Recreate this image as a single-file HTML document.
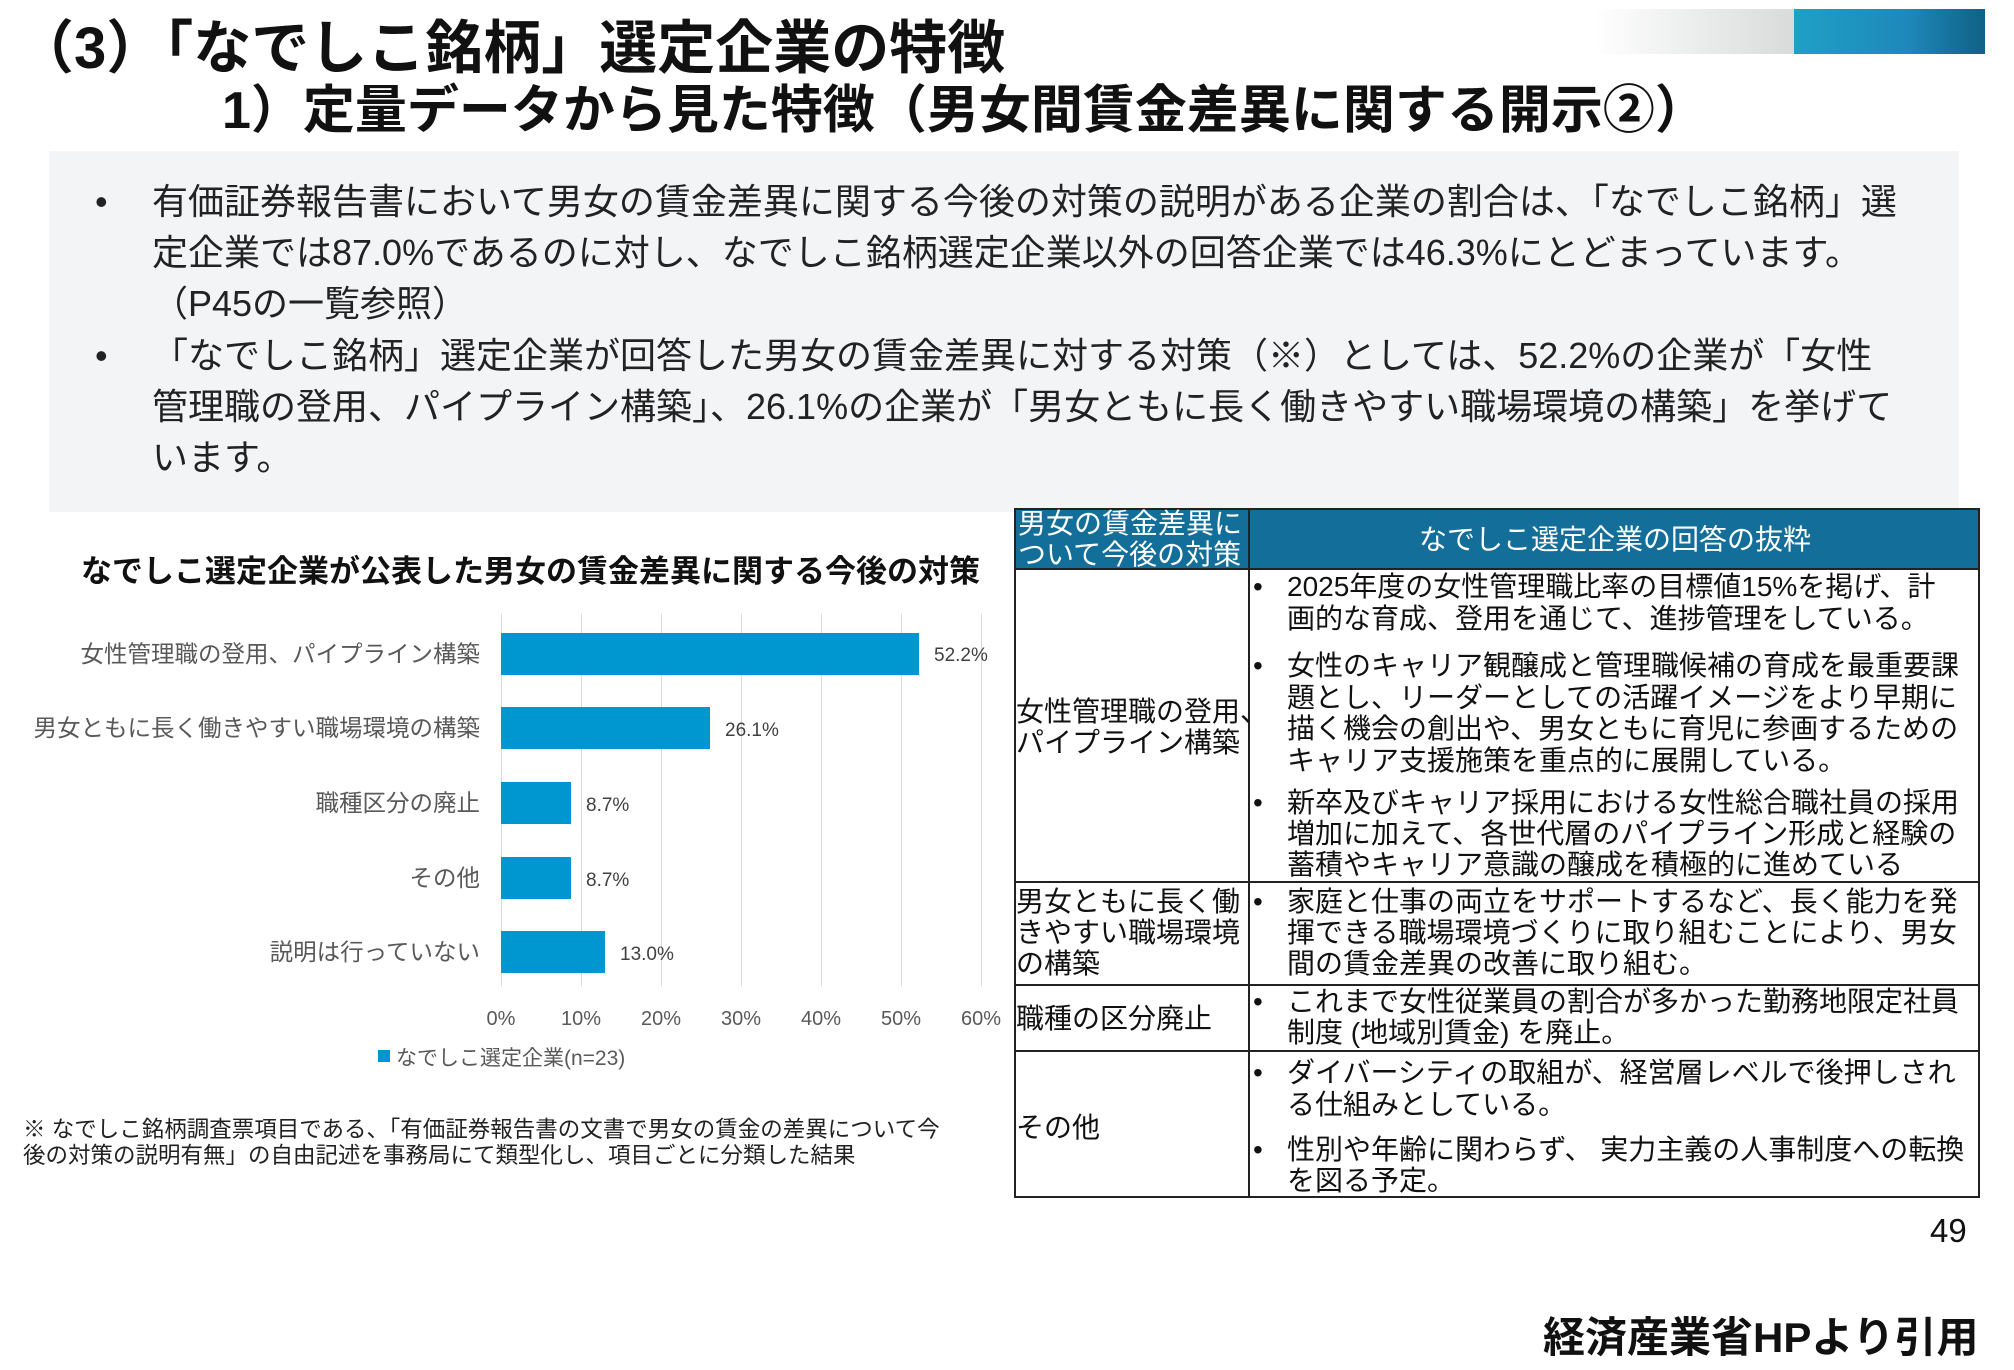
<!DOCTYPE html>
<html><head><meta charset="utf-8"><style>
*{margin:0;padding:0;box-sizing:border-box}
body{width:2014px;height:1370px;background:#fff;position:relative;overflow:hidden;font-family:"Liberation Sans","Noto Sans CJK JP",sans-serif;color:#111}
.a{position:absolute;white-space:nowrap}
.t{font-weight:bold;line-height:1}
.p{font-size:36px;line-height:1;color:#222}
.cl{font-size:23.5px;color:#595959;text-align:right;width:470px;left:10px;line-height:1}
.bar{position:absolute;background:#0097d1;height:42px;left:501px}
.v{font-size:19px;color:#404040}
.tk{font-size:20px;color:#595959;width:60px;text-align:center;margin-left:-30px}
.g{position:absolute;top:614px;height:372px;width:1px;background:#d9d9d9}
.c{font-size:28px;line-height:1;color:#111}
.hl{position:absolute;height:2px;background:#222;left:1014px;width:966px}
</style></head><body>
<div class="a" style="left:1593px;top:9px;width:201px;height:45px;background:linear-gradient(90deg,#fff,#d9dbdb)"></div>
<div class="a" style="left:1794px;top:9px;width:191px;height:45px;background:linear-gradient(90deg,#1fa0c6,#1e88ba 60%,#0f6185)"></div>
<div class="a t" style="left:16px;top:20px;font-size:58px">（3）「なでしこ銘柄」選定企業の特徴</div>
<div class="a t" style="left:222px;top:85px;font-size:52px">1）定量データから見た特徴（男女間賃金差異に関する開示②）</div>
<div class="a" style="left:49px;top:151px;width:1910px;height:361px;background:#f2f4f6"></div>
<div class="a p" style="left:95px;top:184px">•</div>
<div class="a p" style="left:152px;top:184px">有価証券報告書において男女の賃金差異に関する今後の対策の説明がある企業の割合は、「なでしこ銘柄」選</div>
<div class="a p" style="left:152px;top:235px">定企業では87.0%であるのに対し、なでしこ銘柄選定企業以外の回答企業では46.3%にとどまっています。</div>
<div class="a p" style="left:152px;top:286px">（P45の一覧参照）</div>
<div class="a p" style="left:95px;top:338px">•</div>
<div class="a p" style="left:152px;top:338px">「なでしこ銘柄」選定企業が回答した男女の賃金差異に対する対策（※）としては、52.2%の企業が「女性</div>
<div class="a p" style="left:152px;top:389px">管理職の登用、パイプライン構築」、26.1%の企業が「男女ともに長く働きやすい職場環境の構築」を挙げて</div>
<div class="a p" style="left:152px;top:440px">います。</div>

<div class="a" style="left:81px;top:546px;font-size:31px;font-weight:bold">なでしこ選定企業が公表した男女の賃金差異に関する今後の対策</div>
<div class="g" style="left:501px"></div><div class="g" style="left:581px"></div><div class="g" style="left:661px"></div><div class="g" style="left:741px"></div><div class="g" style="left:821px"></div><div class="g" style="left:901px"></div><div class="g" style="left:981px"></div>
<div class="bar" style="top:633px;width:418px"></div>
<div class="bar" style="top:707px;width:209px"></div>
<div class="bar" style="top:782px;width:70px"></div>
<div class="bar" style="top:857px;width:70px"></div>
<div class="bar" style="top:931px;width:104px"></div>
<div class="a cl" style="top:643px">女性管理職の登用、パイプライン構築</div>
<div class="a cl" style="top:717px">男女ともに長く働きやすい職場環境の構築</div>
<div class="a cl" style="top:792px">職種区分の廃止</div>
<div class="a cl" style="top:867px">その他</div>
<div class="a cl" style="top:941px">説明は行っていない</div>
<div class="a v" style="left:934px;top:645px">52.2%</div>
<div class="a v" style="left:725px;top:720px">26.1%</div>
<div class="a v" style="left:586px;top:795px">8.7%</div>
<div class="a v" style="left:586px;top:870px">8.7%</div>
<div class="a v" style="left:620px;top:944px">13.0%</div>
<div class="a tk" style="left:501px;top:1008px">0%</div>
<div class="a tk" style="left:581px;top:1008px">10%</div>
<div class="a tk" style="left:661px;top:1008px">20%</div>
<div class="a tk" style="left:741px;top:1008px">30%</div>
<div class="a tk" style="left:821px;top:1008px">40%</div>
<div class="a tk" style="left:901px;top:1008px">50%</div>
<div class="a tk" style="left:981px;top:1008px">60%</div>
<div class="a" style="left:378px;top:1050px;width:12px;height:12px;background:#0097d1"></div>
<div class="a" style="left:396px;top:1042px;font-size:21px;color:#595959">なでしこ選定企業(n=23)</div>
<div class="a" style="left:23px;top:1112px;font-size:22.5px;color:#222">※ なでしこ銘柄調査票項目である、「有価証券報告書の文書で男女の賃金の差異について今</div>
<div class="a" style="left:23px;top:1138px;font-size:22.5px;color:#222">後の対策の説明有無」の自由記述を事務局にて類型化し、項目ごとに分類した結果</div>

<div class="a" style="left:1014px;top:508px;width:966px;height:60px;background:#136f99"></div>
<div class="a" style="left:1014px;top:508px;width:966px;height:690px;border:2px solid #222"></div>
<div class="a" style="left:1248px;top:508px;width:2px;height:690px;background:#222"></div>
<div class="hl" style="top:568px"></div>
<div class="hl" style="top:881px"></div>
<div class="hl" style="top:984px"></div>
<div class="hl" style="top:1050px"></div>
<div class="a c" style="left:1018px;top:510px;color:#fff">男女の賃金差異に</div>
<div class="a c" style="left:1018px;top:541px;color:#fff">ついて今後の対策</div>
<div class="a c" style="left:1250px;top:526px;width:730px;text-align:center;color:#fff">なでしこ選定企業の回答の抜粋</div>
<div class="a c" style="left:1016px;top:698px">女性管理職の登用、</div>
<div class="a c" style="left:1016px;top:729px">パイプライン構築</div>
<div class="a c" style="left:1016px;top:888px">男女ともに長く働</div>
<div class="a c" style="left:1016px;top:919px">きやすい職場環境</div>
<div class="a c" style="left:1016px;top:950px">の構築</div>
<div class="a c" style="left:1016px;top:1005px">職種の区分廃止</div>
<div class="a c" style="left:1016px;top:1114px">その他</div>
<div class="a c" style="left:1253px;top:573px">•</div><div class="a c" style="left:1287px;top:573px">2025年度の女性管理職比率の目標値15%を掲げ、計</div>
<div class="a c" style="left:1287px;top:605px">画的な育成、登用を通じて、進捗管理をしている。</div>
<div class="a c" style="left:1253px;top:652px">•</div><div class="a c" style="left:1287px;top:652px">女性のキャリア観醸成と管理職候補の育成を最重要課</div>
<div class="a c" style="left:1287px;top:684px">題とし、リーダーとしての活躍イメージをより早期に</div>
<div class="a c" style="left:1287px;top:715px">描く機会の創出や、男女ともに育児に参画するための</div>
<div class="a c" style="left:1287px;top:747px">キャリア支援施策を重点的に展開している。</div>
<div class="a c" style="left:1253px;top:789px">•</div><div class="a c" style="left:1287px;top:789px">新卒及びキャリア採用における女性総合職社員の採用</div>
<div class="a c" style="left:1287px;top:820px">増加に加えて、各世代層のパイプライン形成と経験の</div>
<div class="a c" style="left:1287px;top:851px">蓄積やキャリア意識の醸成を積極的に進めている</div>
<div class="a c" style="left:1253px;top:888px">•</div><div class="a c" style="left:1287px;top:888px">家庭と仕事の両立をサポートするなど、長く能力を発</div>
<div class="a c" style="left:1287px;top:919px">揮できる職場環境づくりに取り組むことにより、男女</div>
<div class="a c" style="left:1287px;top:950px">間の賃金差異の改善に取り組む。</div>
<div class="a c" style="left:1253px;top:988px">•</div><div class="a c" style="left:1287px;top:988px">これまで女性従業員の割合が多かった勤務地限定社員</div>
<div class="a c" style="left:1287px;top:1019px">制度 (地域別賃金) を廃止。</div>
<div class="a c" style="left:1253px;top:1059px">•</div><div class="a c" style="left:1287px;top:1059px">ダイバーシティの取組が、経営層レベルで後押しされ</div>
<div class="a c" style="left:1287px;top:1091px">る仕組みとしている。</div>
<div class="a c" style="left:1253px;top:1136px">•</div><div class="a c" style="left:1287px;top:1136px">性別や年齢に関わらず、 実力主義の人事制度への転換</div>
<div class="a c" style="left:1287px;top:1167px">を図る予定。</div>
<div class="a" style="left:1930px;top:1212px;font-size:33px">49</div>
<div class="a" style="left:1543px;top:1304px;font-size:42px;font-weight:bold">経済産業省HPより引用</div>
</body></html>
